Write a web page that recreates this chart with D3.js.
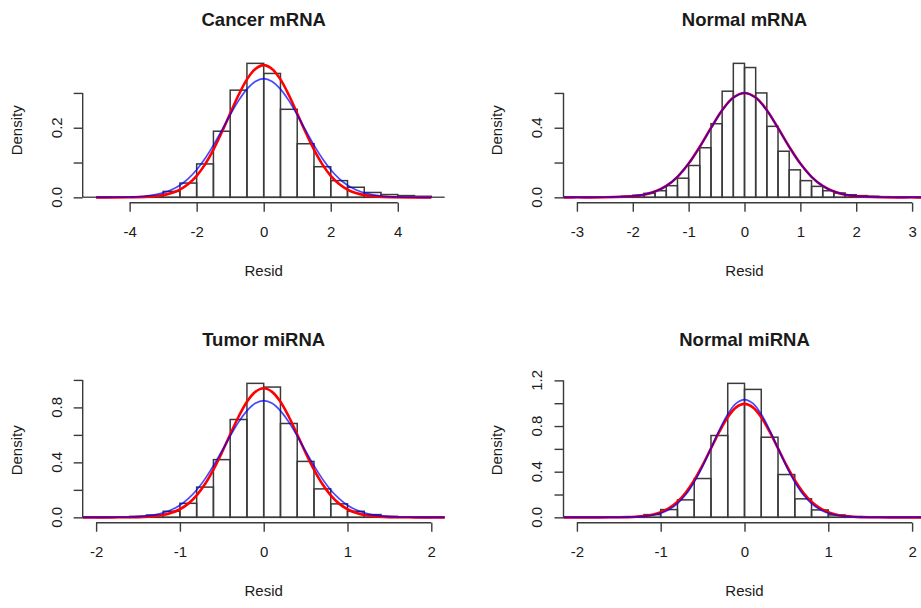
<!DOCTYPE html>
<html>
<head>
<meta charset="utf-8">
<script src="https://cdn.jsdelivr.net/npm/d3@7"></script>
<style>
  html, body { margin: 0; padding: 0; background: #fff; }
  svg { display: block; }
  text { font-family: "Liberation Sans", Arial, Helvetica, sans-serif; fill: #1a1a1a; }
</style>
</head>
<body>
<div id="chart"></div>
<script>
// ---------------- data ----------------
const panelTitles = ["Cancer mRNA", "Normal mRNA", "Tumor miRNA", "Normal miRNA"];
const xAxisTitle = "Resid";
const yAxisTitle = "Density";

// x limits (before R's 4% extension)
const xLimits = [[-5, 5], [-3, 3], [-2, 2], [-2, 2]];

// histogram breaks and densities
const cancerBreaks = [-4, -3.5, -3, -2.5, -2, -1.5, -1, -0.5, 0, 0.5, 1, 1.5, 2, 2.5, 3, 3.5, 4, 4.5, 5];
const cancerDensity = [0.001, 0.004, 0.017, 0.041, 0.096, 0.19, 0.308, 0.385, 0.356, 0.253, 0.154, 0.088, 0.048, 0.029, 0.014, 0.008, 0.005, 0.003];

const normalMrnaBreaks = [-2.4, -2.2, -2, -1.8, -1.6, -1.4, -1.2, -1, -0.8, -0.6, -0.4, -0.2, 0, 0.2, 0.4, 0.6, 0.8, 1, 1.2, 1.4, 1.6, 1.8, 2, 2.2, 2.4, 2.6];
const normalMrnaDensity = [0.003, 0.006, 0.012, 0.023, 0.038, 0.067, 0.11, 0.183, 0.285, 0.423, 0.61, 0.77, 0.746, 0.6, 0.408, 0.265, 0.158, 0.096, 0.063, 0.038, 0.025, 0.015, 0.01, 0.006, 0.004];

const tumorMirnaBreaks = [-2, -1.8, -1.6, -1.4, -1.2, -1, -0.8, -0.6, -0.4, -0.2, 0, 0.2, 0.4, 0.6, 0.8, 1, 1.2, 1.4, 1.6, 1.8, 2];
const tumorMirnaDensity = [0.002, 0.003, 0.007, 0.017, 0.044, 0.102, 0.22, 0.42, 0.712, 0.975, 0.948, 0.683, 0.407, 0.207, 0.098, 0.044, 0.02, 0.007, 0.003, 0.002];

const normalMirnaBreaks = [-1.4, -1.2, -1, -0.8, -0.6, -0.4, -0.2, 0, 0.2, 0.4, 0.6, 0.8, 1, 1.2, 1.4];
const normalMirnaDensity = [0.003, 0.024, 0.068, 0.153, 0.34, 0.717, 1.174, 1.121, 0.702, 0.375, 0.162, 0.065, 0.021, 0.006];

// fitted curves
const cancerCurveX = [-5, -4.5, -4, -3.5, -3, -2.75, -2.5, -2.25, -2, -1.75, -1.5, -1.25, -1, -0.75, -0.5, -0.25, 0, 0.25, 0.5, 0.75, 1, 1.25, 1.5, 1.75, 2, 2.25, 2.5, 2.75, 3, 3.5, 4, 4.5, 5];
const cancerRed  = [0, 0, 0.0003, 0.0015, 0.0064, 0.0123, 0.0224, 0.0383, 0.0619, 0.0948, 0.137, 0.187, 0.241, 0.294, 0.339, 0.369, 0.380, 0.369, 0.339, 0.294, 0.241, 0.187, 0.137, 0.0948, 0.0619, 0.0383, 0.0224, 0.0123, 0.0064, 0.0015, 0.0003, 0, 0];
const cancerBlue = [0, 0.0002, 0.001, 0.0039, 0.0127, 0.0216, 0.0348, 0.0537, 0.0791, 0.1115, 0.150, 0.193, 0.237, 0.278, 0.311, 0.333, 0.341, 0.333, 0.311, 0.278, 0.237, 0.193, 0.150, 0.1115, 0.0791, 0.0537, 0.0348, 0.0216, 0.0127, 0.0039, 0.001, 0.0002, 0];

const normalMrnaCurveX = [-3.24, -3, -2.5, -2, -1.8, -1.6, -1.4, -1.2, -1, -0.8, -0.6, -0.4, -0.2, 0, 0.2, 0.4, 0.6, 0.8, 1, 1.2, 1.4, 1.6, 1.8, 2, 2.5, 3, 3.24];
const normalMrnaRed  = [0, 0.0001, 0.0005, 0.0065, 0.0154, 0.0332, 0.0654, 0.118, 0.194, 0.291, 0.399, 0.501, 0.574, 0.600, 0.574, 0.501, 0.399, 0.291, 0.194, 0.118, 0.0654, 0.0332, 0.0154, 0.0065, 0.0005, 0.0001, 0];
const normalMrnaBlue = [0, 0.0001, 0.0006, 0.0067, 0.0156, 0.0334, 0.0655, 0.118, 0.194, 0.290, 0.398, 0.500, 0.573, 0.599, 0.573, 0.500, 0.398, 0.290, 0.194, 0.118, 0.0655, 0.0334, 0.0156, 0.0067, 0.0006, 0.0001, 0];

const mirnaCurveX = [-2.16, -2, -1.8, -1.6, -1.5, -1.4, -1.3, -1.2, -1.1, -1, -0.9, -0.8, -0.7, -0.6, -0.5, -0.4, -0.3, -0.2, -0.1, 0, 0.1, 0.2, 0.3, 0.4, 0.5, 0.6, 0.7, 0.8, 0.9, 1, 1.1, 1.2, 1.3, 1.4, 1.5, 1.6, 1.8, 2, 2.16];
const tumorMirnaRed  = [0, 0, 0.0001, 0.0008, 0.0018, 0.0041, 0.0087, 0.0174, 0.033, 0.059, 0.0998, 0.160, 0.242, 0.347, 0.470, 0.603, 0.732, 0.841, 0.913, 0.939, 0.913, 0.841, 0.732, 0.603, 0.470, 0.347, 0.242, 0.160, 0.0998, 0.059, 0.033, 0.0174, 0.0087, 0.0041, 0.0018, 0.0008, 0.0001, 0, 0];
const tumorMirnaBlue = [0, 0.0001, 0.0006, 0.0026, 0.0052, 0.0101, 0.0185, 0.0326, 0.0549, 0.0884, 0.136, 0.199, 0.280, 0.376, 0.482, 0.591, 0.693, 0.775, 0.830, 0.849, 0.830, 0.775, 0.693, 0.591, 0.482, 0.376, 0.280, 0.199, 0.136, 0.0884, 0.0549, 0.0326, 0.0185, 0.0101, 0.0052, 0.0026, 0.0006, 0.0001, 0];
const normalMirnaRed  = [0, 0, 0, 0.0003, 0.0009, 0.0022, 0.0052, 0.0113, 0.0231, 0.0444, 0.0801, 0.136, 0.217, 0.325, 0.457, 0.604, 0.751, 0.878, 0.964, 0.994, 0.964, 0.878, 0.751, 0.604, 0.457, 0.325, 0.217, 0.136, 0.0801, 0.0444, 0.0231, 0.0113, 0.0052, 0.0022, 0.0009, 0.0003, 0, 0, 0];
const normalMirnaBlue = [0, 0, 0, 0.0002, 0.0005, 0.0015, 0.0036, 0.0084, 0.0180, 0.0363, 0.0687, 0.121, 0.200, 0.310, 0.447, 0.604, 0.764, 0.903, 0.998, 1.032, 0.998, 0.903, 0.764, 0.604, 0.447, 0.310, 0.200, 0.121, 0.0687, 0.0363, 0.0180, 0.0084, 0.0036, 0.0015, 0.0005, 0.0002, 0, 0, 0];

// axis ticks and labels
const cancerXTicks = [-4, -2, 0, 2, 4];
const normalMrnaXTicks = [-3, -2, -1, 0, 1, 2, 3];
const mirnaXTicks = [-2, -1, 0, 1, 2];
const cancerYTicks = [0, 0.1, 0.2, 0.3];
const cancerYLabels = ["0.0", "", "0.2", ""];
const normalMrnaYTicks = [0, 0.2, 0.4, 0.6];
const normalMrnaYLabels = ["0.0", "", "0.4", ""];
const tumorMirnaYTicks = [0, 0.2, 0.4, 0.6, 0.8, 1.0];
const tumorMirnaYLabels = ["0.0", "", "0.4", "", "0.8", ""];
const normalMirnaYTicks = [0, 0.2, 0.4, 0.6, 0.8, 1.0, 1.2];
const normalMirnaYLabels = ["0.0", "", "0.4", "", "0.8", "", "1.2"];

// ---------------- build panels ----------------
const panels = [
  { title: panelTitles[0], xlim: xLimits[0], breaks: cancerBreaks, dens: cancerDensity, cx: cancerCurveX, red: cancerRed, blue: cancerBlue, xt: cancerXTicks, yt: cancerYTicks, yl: cancerYLabels },
  { title: panelTitles[1], xlim: xLimits[1], breaks: normalMrnaBreaks, dens: normalMrnaDensity, cx: normalMrnaCurveX, red: normalMrnaRed, blue: normalMrnaBlue, xt: normalMrnaXTicks, yt: normalMrnaYTicks, yl: normalMrnaYLabels },
  { title: panelTitles[2], xlim: xLimits[2], breaks: tumorMirnaBreaks, dens: tumorMirnaDensity, cx: mirnaCurveX, red: tumorMirnaRed, blue: tumorMirnaBlue, xt: mirnaXTicks, yt: tumorMirnaYTicks, yl: tumorMirnaYLabels },
  { title: panelTitles[3], xlim: xLimits[3], breaks: normalMirnaBreaks, dens: normalMirnaDensity, cx: mirnaCurveX, red: normalMirnaRed, blue: normalMirnaBlue, xt: mirnaXTicks, yt: normalMirnaYTicks, yl: normalMirnaYLabels }
];

const W = 921, H = 608;
const svg = d3.select("#chart").append("svg").attr("width", W).attr("height", H);

const colOffset = [0, 480.8];
const rowOffset = [0, 320];
const plotLeft = 82.7, plotWidth = 362, plotTop = 58, plotBottom = 202.7;
const inkColor = "#3a3a3a";

function extend(lim) {
  const d = (lim[1] - lim[0]) * 0.04;
  return [lim[0] - d, lim[1] + d];
}

panels.forEach((p, i) => {
  const ox = colOffset[i % 2], oy = rowOffset[Math.floor(i / 2)];
  const L = plotLeft + ox, R = L + plotWidth, T = plotTop + oy, B = plotBottom + oy;
  const x = d3.scaleLinear().domain(extend(p.xlim)).range([L, R]);
  const ymax = d3.max(p.dens);
  const y = d3.scaleLinear().domain(extend([0, ymax])).range([B, T]);
  const g = svg.append("g");
  const cxm = (L + R) / 2;

  // title
  g.append("text").attr("x", cxm).attr("y", 26 + oy).attr("text-anchor", "middle")
    .style("font-size", "18.5px").style("font-weight", "bold").text(p.title);

  // baseline at density 0
  g.append("line").attr("x1", L).attr("x2", R).attr("y1", y(0)).attr("y2", y(0))
    .attr("stroke", "#555").attr("stroke-width", 1.5);

  // histogram bars
  const bins = p.dens.map((d, k) => ({ x0: p.breaks[k], x1: p.breaks[k + 1], d }));
  g.selectAll("rect.bar").data(bins).enter().append("rect")
    .attr("class", "bar")
    .attr("x", b => x(b.x0)).attr("width", b => x(b.x1) - x(b.x0))
    .attr("y", b => y(b.d)).attr("height", b => y(0) - y(b.d))
    .attr("fill", "none").attr("stroke", inkColor).attr("stroke-width", 1.5);

  // curves
  const line = d3.line().x(d => x(d[0])).y(d => y(d[1])).curve(d3.curveCatmullRom);
  g.append("path").datum(p.cx.map((v, k) => [v, p.red[k]]))
    .attr("d", line).attr("fill", "none").attr("stroke", "#ff0000").attr("stroke-width", 2.6);
  g.append("path").datum(p.cx.map((v, k) => [v, p.blue[k]]))
    .attr("d", line).attr("fill", "none").attr("stroke", "#0000ff").attr("stroke-opacity", 0.72).attr("stroke-width", 1.7);

  // x axis
  const xa = g.append("g").attr("transform", `translate(0,${B})`)
    .call(d3.axisBottom(x).tickValues(p.xt).tickSize(9).tickSizeOuter(0).tickPadding(15).tickFormat(d3.format("d")));
  xa.select(".domain").remove();
  xa.selectAll("line").attr("stroke", inkColor).attr("stroke-width", 1.4);
  xa.selectAll("text").style("font-size", "15px").attr("fill", "#1a1a1a")
    .style("font-family", "'Liberation Sans', Arial, Helvetica, sans-serif")
    .text(d => d < 0 ? "-" + Math.abs(d) : String(d));
  xa.append("line").attr("x1", x(p.xt[0])).attr("x2", x(p.xt[p.xt.length - 1]))
    .attr("y1", 0).attr("y2", 0).attr("stroke", inkColor).attr("stroke-width", 1.4);

  // y axis
  const ya = g.append("g").attr("transform", `translate(${L},0)`)
    .call(d3.axisLeft(y).tickValues(p.yt).tickSize(9).tickSizeOuter(0).tickFormat(""));
  ya.select(".domain").remove();
  ya.selectAll("line").attr("stroke", inkColor).attr("stroke-width", 1.4);
  ya.append("line").attr("x1", 0).attr("x2", 0)
    .attr("y1", y(p.yt[0])).attr("y2", y(p.yt[p.yt.length - 1]))
    .attr("stroke", inkColor).attr("stroke-width", 1.4);
  p.yt.forEach((v, k) => {
    if (!p.yl[k]) return;
    const tx = L - 21, ty = y(v);
    g.append("text").attr("x", tx).attr("y", ty).attr("text-anchor", "middle")
      .attr("transform", `rotate(-90,${tx},${ty})`)
      .style("font-size", "15px").text(p.yl[k]);
  });

  // axis titles
  g.append("text").attr("x", cxm).attr("y", B + 73).attr("text-anchor", "middle")
    .style("font-size", "15px").text(xAxisTitle);
  const dx = L - 61, dy = (T + B) / 2;
  g.append("text").attr("x", dx).attr("y", dy).attr("text-anchor", "middle")
    .attr("transform", `rotate(-90,${dx},${dy})`)
    .style("font-size", "15px").text(yAxisTitle);
});
</script>
</body>
</html>
